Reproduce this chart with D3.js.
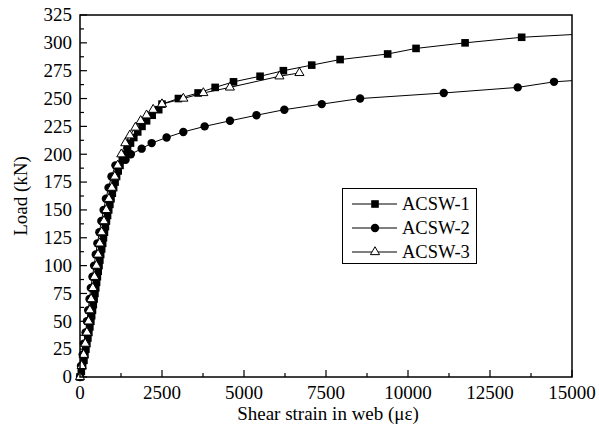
<!DOCTYPE html>
<html><head><meta charset="utf-8">
<script src="https://cdn.jsdelivr.net/npm/d3@7"></script>
<style>body{margin:0;background:#fff}svg{display:block}</style>
</head><body><svg id="c" width="599" height="439" font-family="Liberation Serif, serif"></svg>
<script>
const seriesNames = ["ACSW-1","ACSW-2","ACSW-3"];
const acsw1 = [[0,0],[40,5],[80,10],[120,15],[150,20],[180,25],[210,30],[240,35],[270,40],[300,45],[330,50],[355,55],[380,60],[405,65],[430,70],[455,75],[480,80],[505,85],[530,90],[555,95],[580,100],[605,105],[630,110],[660,115],[690,120],[715,125],[745,130],[775,135],[805,140],[840,145],[875,150],[910,155],[945,160],[985,165],[1025,170],[1070,175],[1115,180],[1165,185],[1220,190],[1290,195],[1370,200],[1450,205],[1540,210],[1640,215],[1760,220],[1890,225],[2030,230],[2200,235],[2400,240],[2500,245],[3000,250],[3600,255],[4120,260],[4680,265],[5490,270],[6200,275],[7065,280],[7930,285],[9380,290],[10245,295],[11740,300],[13465,305],[16000,309]];
const acsw2 = [[0,0],[30,10],[80,20],[120,30],[170,40],[210,50],[250,60],[290,70],[330,80],[380,90],[430,100],[480,110],[530,120],[590,130],[650,140],[720,150],[790,160],[870,170],[960,180],[1080,190],[1390,195],[1550,200],[1880,205],[2185,210],[2640,215],[3150,220],[3800,225],[4573,230],[5380,235],[6230,240],[7370,245],[8540,250],[11090,255],[13345,260],[14452,265],[16000,268]];
const acsw3 = [[0,0],[50,10],[110,20],[160,30],[210,40],[260,50],[300,60],[340,70],[390,80],[440,90],[500,100],[550,110],[600,120],[660,130],[730,140],[800,150],[880,160],[970,170],[1060,180],[1150,190],[1260,200],[1380,210],[1520,217],[1690,224],[1850,230],[2030,235],[2230,240],[2500,245],[3150,250],[3760,255],[4570,260],[6080,270],[6690,273]];
const xTicks = [0,2500,5000,7500,10000,12500,15000];
const yTicks = [0,25,50,75,100,125,150,175,200,225,250,275,300,325];

const FONT = "Liberation Serif, Times New Roman, serif";
const svg = d3.select("#c");
const L=80,R=572,T=15,B=377;
const x = d3.scaleLinear().domain([0,15000]).range([L,R]);
const y = d3.scaleLinear().domain([0,325]).range([B,T]);

svg.append("defs").append("clipPath").attr("id","clip").append("rect").attr("x",L-6).attr("y",T).attr("width",R-L+6).attr("height",B-T+6);

const xMinor = d3.range(1250,15000,2500);
const yMinor = d3.range(12.5,325,25);
const g = svg.append("g");
g.selectAll(".xmaj").data(xTicks).join("line").attr("x1",d=>x(d)).attr("x2",d=>x(d)).attr("y1",B).attr("y2",B-7).attr("stroke","#000").attr("stroke-width",1.2);
g.selectAll(".xmin").data(xMinor).join("line").attr("x1",d=>x(d)).attr("x2",d=>x(d)).attr("y1",B).attr("y2",B-4).attr("stroke","#000").attr("stroke-width",1.2);
g.selectAll(".ymaj").data(yTicks).join("line").attr("y1",d=>y(d)).attr("y2",d=>y(d)).attr("x1",L).attr("x2",L+7).attr("stroke","#000").attr("stroke-width",1.2);
g.selectAll(".ymin").data(yMinor).join("line").attr("y1",d=>y(d)).attr("y2",d=>y(d)).attr("x1",L).attr("x2",L+4).attr("stroke","#000").attr("stroke-width",1.2);

g.selectAll(".xl").data(xTicks).join("text").attr("font-family",FONT).attr("x",d=>x(d)).attr("y",398.5).attr("text-anchor","middle").attr("font-size",19).text(d=>d);
g.selectAll(".yl").data(yTicks).join("text").attr("font-family",FONT).attr("x",72).attr("y",d=>y(d)+6.3).attr("text-anchor","end").attr("font-size",19).text(d=>d);

svg.append("text").attr("font-family",FONT).attr("x",(L+R)/2+2).attr("y",419.5).attr("text-anchor","middle").attr("font-size",19).text("Shear strain in web (με)");
svg.append("text").attr("font-family",FONT).attr("transform",`translate(27,${(T+B)/2}) rotate(-90)`).attr("text-anchor","middle").attr("font-size",19).text("Load (kN)");

const line = d3.line().x(d=>x(d[0])).y(d=>y(d[1]));
const plot = svg.append("g").attr("clip-path","url(#clip)");
const all = [acsw1,acsw2,acsw3];
all.forEach(s=>{
  plot.append("path").attr("d",line(s)).attr("fill","none").attr("stroke","#000").attr("stroke-width",1);
});
function marker(sel,i){
  if(i===0) sel.append("rect").attr("x",-3.8).attr("y",-3.8).attr("width",7.6).attr("height",7.6).attr("fill","#000");
  else if(i===1) sel.append("circle").attr("r",4.2).attr("fill","#000");
  else sel.append("path").attr("d",d3.symbol(d3.symbolTriangle,36)()).attr("fill","#fff").attr("stroke","#000").attr("stroke-width",1);
}
all.forEach((s,i)=>{
  plot.selectAll(".m"+i).data(s.filter(d=>d[0]<=15000)).join("g").attr("transform",d=>`translate(${x(d[0])},${y(d[1])})`).each(function(){marker(d3.select(this),i);});
});

svg.append("rect").attr("x",L).attr("y",T).attr("width",R-L).attr("height",B-T).attr("fill","none").attr("stroke","#000").attr("stroke-width",1.5);

const lg = svg.append("g");
lg.append("rect").attr("x",342.5).attr("y",188.5).attr("width",134).attr("height",75).attr("fill","#fff").attr("stroke","#000").attr("stroke-width",1);
const ly = [204,228,252];
seriesNames.forEach((n,i)=>{
  lg.append("line").attr("x1",352).attr("x2",397).attr("y1",ly[i]).attr("y2",ly[i]).attr("stroke","#000").attr("stroke-width",1);
  const m = lg.append("g").attr("transform",`translate(375,${ly[i]})`);
  marker(m,i);
  lg.append("text").attr("font-family",FONT).attr("x",402).attr("y",ly[i]+6).attr("font-size",18.5).text(n);
});
</script></body></html>
